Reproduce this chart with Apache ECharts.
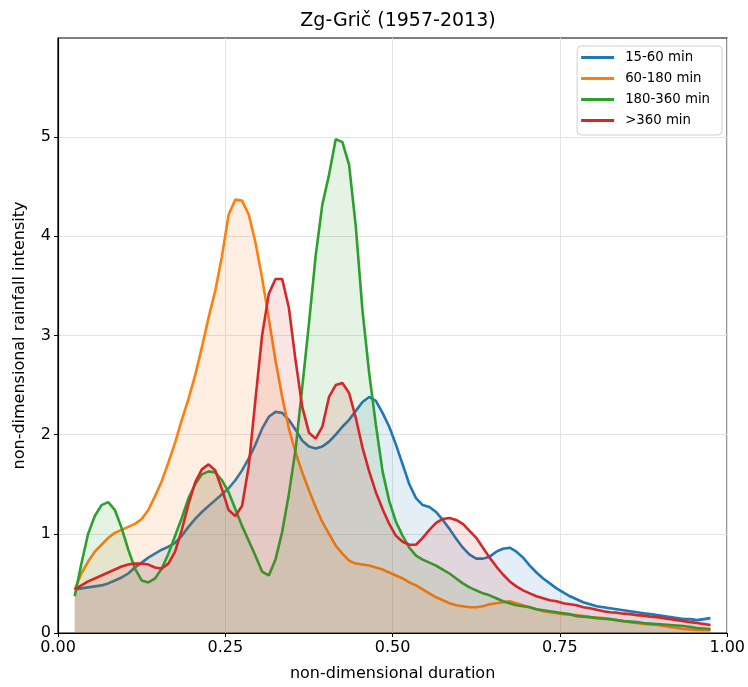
<!DOCTYPE html>
<html>
<head>
<meta charset="utf-8">
<script src="https://cdn.jsdelivr.net/npm/echarts@6/dist/echarts.min.js"></script>
<style>
html,body{margin:0;padding:0;background:#fff;}
#chart{width:748px;height:687px;}
</style>
</head>
<body>
<div id="chart"></div>
<script>
const durations = [0.025,0.035,0.045,0.055,0.065,0.075,0.085,0.095,0.105,0.115,0.125,0.135,0.145,0.155,0.165,0.175,0.185,0.195,0.205,0.215,0.225,0.235,0.245,0.255,0.265,0.275,0.285,0.295,0.305,0.315,0.325,0.335,0.345,0.355,0.365,0.375,0.385,0.395,0.405,0.415,0.425,0.435,0.445,0.455,0.465,0.475,0.485,0.495,0.505,0.515,0.525,0.535,0.545,0.555,0.565,0.575,0.585,0.595,0.605,0.615,0.625,0.635,0.645,0.655,0.665,0.675,0.685,0.695,0.705,0.715,0.725,0.735,0.745,0.755,0.765,0.775,0.785,0.795,0.805,0.815,0.825,0.835,0.845,0.855,0.865,0.875,0.885,0.895,0.905,0.915,0.925,0.935,0.945,0.955,0.965,0.975];

const s15_60 = [0.44,0.45,0.46,0.47,0.48,0.50,0.53,0.56,0.60,0.66,0.71,0.76,0.80,0.84,0.87,0.91,0.98,1.07,1.15,1.22,1.28,1.34,1.40,1.46,1.54,1.64,1.76,1.90,2.06,2.18,2.23,2.22,2.15,2.05,1.94,1.88,1.86,1.88,1.93,2.00,2.08,2.15,2.24,2.33,2.38,2.34,2.22,2.08,1.90,1.70,1.50,1.36,1.29,1.27,1.22,1.14,1.05,0.95,0.86,0.79,0.75,0.75,0.77,0.82,0.85,0.86,0.82,0.76,0.68,0.61,0.55,0.50,0.45,0.41,0.37,0.34,0.31,0.29,0.27,0.26,0.25,0.24,0.23,0.22,0.21,0.20,0.19,0.18,0.17,0.16,0.15,0.14,0.14,0.13,0.14,0.15];

const s60_180 = [0.44,0.60,0.72,0.82,0.89,0.96,1.01,1.04,1.07,1.10,1.15,1.24,1.38,1.53,1.72,1.92,2.15,2.36,2.60,2.88,3.18,3.45,3.80,4.22,4.37,4.36,4.22,3.94,3.58,3.17,2.75,2.38,2.06,1.82,1.62,1.44,1.27,1.12,1.00,0.88,0.80,0.73,0.70,0.69,0.68,0.66,0.64,0.61,0.58,0.55,0.51,0.48,0.44,0.40,0.36,0.33,0.30,0.28,0.27,0.26,0.26,0.27,0.29,0.30,0.31,0.32,0.30,0.28,0.26,0.24,0.22,0.21,0.20,0.19,0.185,0.18,0.17,0.16,0.155,0.15,0.14,0.13,0.12,0.11,0.10,0.09,0.085,0.08,0.07,0.06,0.05,0.04,0.035,0.03,0.03,0.03];

const s180_360 = [0.37,0.70,1.00,1.18,1.29,1.32,1.24,1.06,0.84,0.65,0.53,0.51,0.55,0.65,0.80,0.98,1.16,1.36,1.50,1.60,1.63,1.62,1.54,1.42,1.25,1.08,0.93,0.78,0.62,0.58,0.74,1.02,1.40,1.85,2.48,3.12,3.80,4.32,4.62,4.98,4.95,4.72,4.10,3.25,2.62,2.10,1.63,1.33,1.12,0.98,0.86,0.78,0.74,0.71,0.68,0.64,0.60,0.55,0.50,0.46,0.43,0.40,0.38,0.35,0.32,0.30,0.28,0.27,0.26,0.24,0.23,0.22,0.21,0.20,0.19,0.17,0.165,0.16,0.15,0.145,0.14,0.13,0.12,0.115,0.11,0.10,0.095,0.09,0.085,0.08,0.075,0.07,0.06,0.05,0.045,0.04];

const s360 = [0.44,0.48,0.52,0.55,0.58,0.61,0.64,0.67,0.69,0.70,0.70,0.69,0.66,0.65,0.70,0.82,1.04,1.30,1.52,1.65,1.70,1.64,1.45,1.24,1.18,1.28,1.68,2.35,3.00,3.42,3.57,3.57,3.28,2.75,2.28,2.02,1.96,2.08,2.38,2.50,2.52,2.42,2.17,1.87,1.63,1.42,1.25,1.10,0.98,0.92,0.89,0.89,0.96,1.04,1.11,1.15,1.16,1.14,1.10,1.03,0.96,0.86,0.76,0.67,0.59,0.52,0.47,0.43,0.40,0.37,0.35,0.33,0.32,0.30,0.29,0.28,0.26,0.25,0.235,0.22,0.21,0.205,0.195,0.19,0.18,0.175,0.165,0.16,0.15,0.14,0.13,0.12,0.11,0.10,0.09,0.08];

const seriesNames = ['15-60 min','60-180 min','180-360 min','>360 min'];
const seriesColors = ['#1f77b4','#ff7f0e','#2ca02c','#d62728'];
const seriesValues = [s15_60, s60_180, s180_360, s360];
const xTicks = [0, 0.25, 0.5, 0.75, 1];
const yTicks = [0, 1, 2, 3, 4, 5];

const FONT = 'DejaVu Sans';
const chart = echarts.init(document.getElementById('chart'), null, {renderer:'canvas'});

const series = seriesValues.map((vals, k) => ({
  name: seriesNames[k],
  type: 'line',
  data: durations.map((x, i) => [x, vals[i]]),
  showSymbol: false,
  symbol: 'none',
  smooth: false,
  lineStyle: {color: seriesColors[k], width: 2.6},
  itemStyle: {color: seriesColors[k]},
  areaStyle: {color: seriesColors[k], opacity: 0.12, origin: 'start'},
  z: 2 + k
}));

chart.setOption({
  animation: false,
  backgroundColor: '#ffffff',
  title: {
    text: 'Zg-Grič (1957-2013)',
    left: 393, textAlign: 'center', top: 7,
    textStyle: {fontFamily: FONT, fontSize: 19, fontWeight: 'normal', color: '#000'}
  },
  grid: {left: 58, right: 20, top: 38, bottom: 51, show: true, borderColor: '#000', borderWidth: 1.2, backgroundColor: 'transparent'},
  legend: {
    orient: 'vertical', right: 26, top: 46,
    data: seriesNames,
    icon: 'rect', itemWidth: 33, itemHeight: 3, itemGap: 8,
    backgroundColor: '#fff', borderColor: '#d0d0d0', borderWidth: 1, borderRadius: 4,
    padding: [5, 12, 8, 4],
    textStyle: {fontFamily: FONT, fontSize: 13.3, color: '#000', padding: [0, 0, 0, 6]}
  },
  xAxis: {
    type: 'value', min: 0, max: 1, interval: 0.25,
    name: 'non-dimensional duration', nameLocation: 'middle', nameGap: 33,
    nameTextStyle: {fontFamily: FONT, fontSize: 16, color: '#000'},
    axisLine: {show: true, onZero: false, lineStyle: {color: '#000', width: 1.2}},
    axisTick: {show: true, length: 4, lineStyle: {color: '#000'}},
    axisLabel: {fontFamily: FONT, fontSize: 16, color: '#000', margin: 7,
      formatter: v => xTicks.indexOf(v) >= 0 ? v.toFixed(2) : ''},
    splitLine: {show: true, lineStyle: {color: '#e3e3e3', width: 1}}
  },
  yAxis: {
    type: 'value', min: 0, max: 6, interval: 1,
    name: 'non-dimensional rainfall intensity', nameLocation: 'middle', nameGap: 30,
    nameTextStyle: {fontFamily: FONT, fontSize: 16, color: '#000'},
    axisLine: {show: true, lineStyle: {color: '#000', width: 1.2}},
    axisTick: {show: true, length: 4, lineStyle: {color: '#000'}, customValues: yTicks},
    axisLabel: {fontFamily: FONT, fontSize: 16, color: '#000', margin: 7, customValues: yTicks,
      formatter: v => String(v)},
    splitLine: {show: true, lineStyle: {color: '#e3e3e3', width: 1}}
  },
  series: series
});
</script>
</body>
</html>
